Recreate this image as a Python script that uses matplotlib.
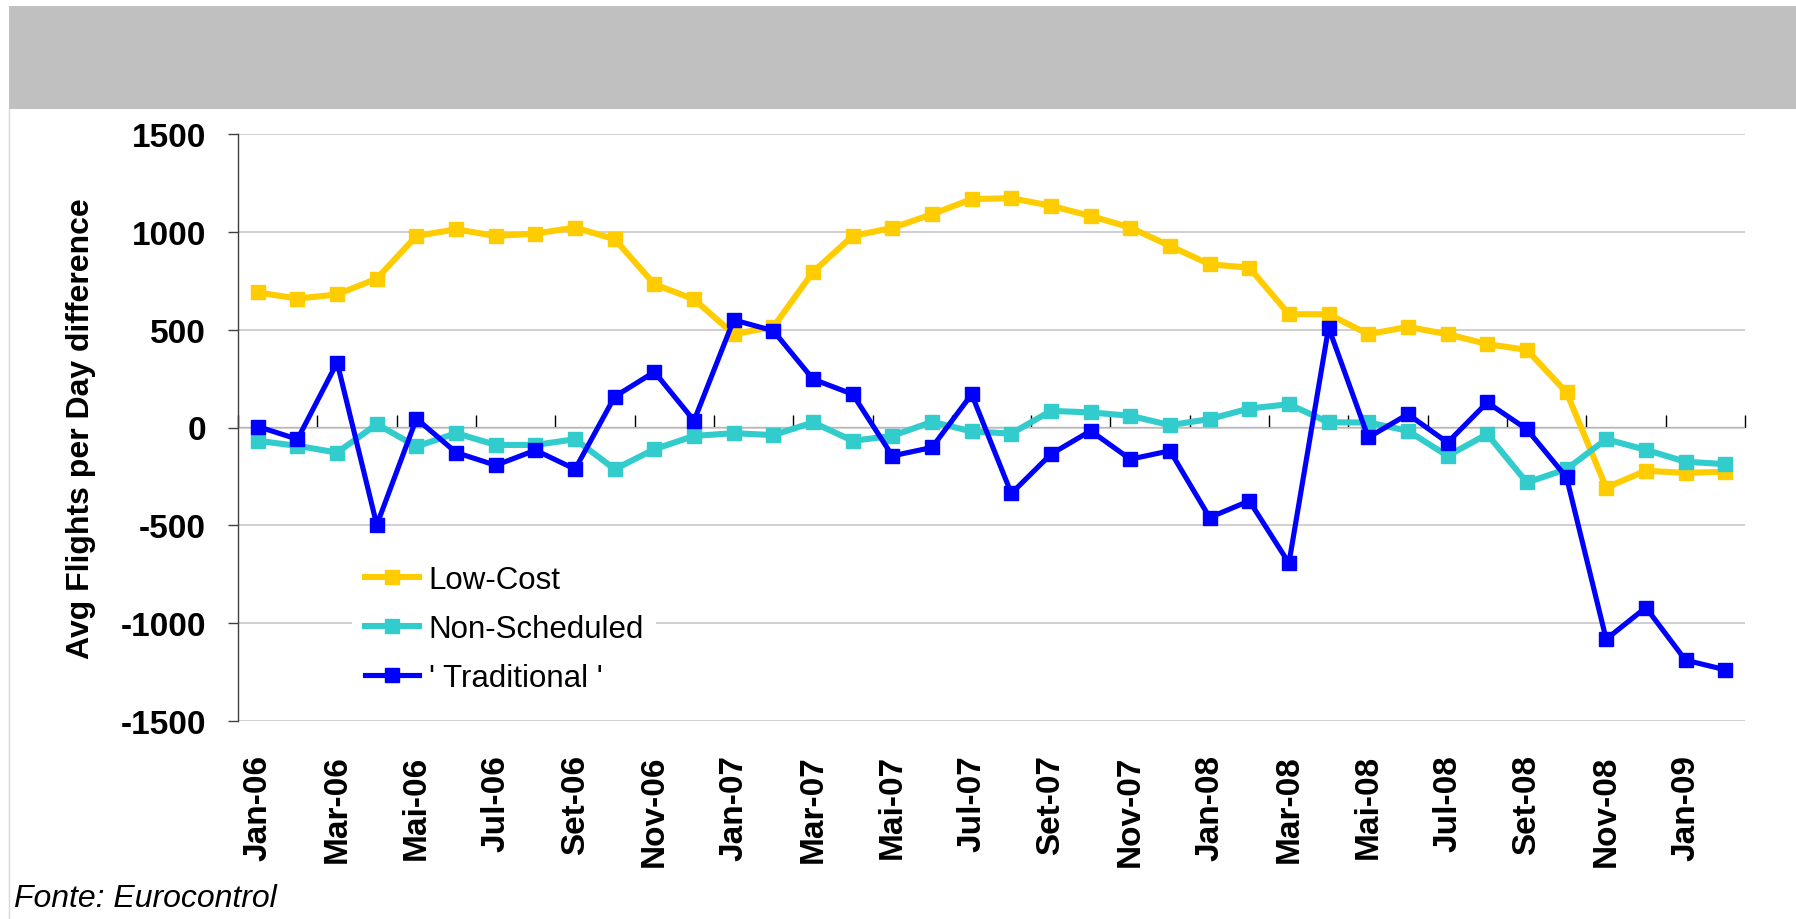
import numpy as np
import matplotlib
matplotlib.use("Agg")
import matplotlib.pyplot as plt
from matplotlib.patches import Rectangle
from matplotlib.lines import Line2D

plt.rcParams['font.family'] = ['Liberation Sans', 'DejaVu Sans']
plt.rcParams['axes.unicode_minus'] = False

# meses (Jan-06 .. Fev-09)
months = ['Jan-06', 'Fev-06', 'Mar-06', 'Abr-06', 'Mai-06', 'Jun-06', 'Jul-06', 'Ago-06',
          'Set-06', 'Out-06', 'Nov-06', 'Dez-06',
          'Jan-07', 'Fev-07', 'Mar-07', 'Abr-07', 'Mai-07', 'Jun-07', 'Jul-07', 'Ago-07',
          'Set-07', 'Out-07', 'Nov-07', 'Dez-07',
          'Jan-08', 'Fev-08', 'Mar-08', 'Abr-08', 'Mai-08', 'Jun-08', 'Jul-08', 'Ago-08',
          'Set-08', 'Out-08', 'Nov-08', 'Dez-08',
          'Jan-09', 'Fev-09']

low_cost = [690, 659, 680, 761, 979, 1013, 979, 991, 1022, 962, 732, 655,
            477, 514, 795, 979, 1020, 1090, 1167, 1172, 1133, 1081, 1022, 928,
            834, 817, 579, 579, 477, 514, 477, 426, 397, 179, -307, -221, -232, -226]

non_scheduled = [-68, -94, -128, 17, -97, -29, -89, -89, -60, -213, -111, -43,
                 -29, -39, 26, -68, -43, 29, -20, -31, 85, 77, 60, 12,
                 43, 97, 119, 26, 26, -17, -145, -34, -281, -213, -60, -114, -175, -187]

traditional = [5, -60, 332, -498, 45, -128, -193, -116, -213, 158, 284, 35,
               550, 494, 247, 170, -145, -102, 170, -337, -136, -17, -162, -119,
               -460, -375, -693, 511, -51, 68, -77, 128, -9, -255, -1082, -920, -1189, -1238]

series = [
    ("Low-Cost", low_cost, "#FFCC00", 4.4),
    ("Non-Scheduled", non_scheduled, "#33CCCC", 4.4),
    ("' Traditional '", traditional, "#0000FF", 3.7),
]

W, H = 1796, 920
fig = plt.figure(figsize=(W / 100, H / 100), dpi=100)
fig.patch.set_facecolor("white")

# faixa cinzenta do topo
fig.patches.append(Rectangle((9 / W, 1 - 110 / H), 1 - 9 / W, 103 / H,
                             transform=fig.transFigure, facecolor="#C0C0C0",
                             edgecolor="none", zorder=0))
fig.lines.append(Line2D([9 / W, 9 / W], [0, 1 - 110 / H], transform=fig.transFigure,
                        color="#D9D9D9", lw=1))

ax = fig.add_axes([238 / W, 1 - 722 / H, (1745 - 238) / W, (722 - 135) / H])
x = np.arange(len(months))

for name, vals, col, lw in series:
    ax.plot(x, vals, color=col, lw=lw, marker="s", markersize=9.5,
            markeredgecolor=col, label=name, clip_on=False)

ax.set_xlim(-0.5, len(months) - 0.5)
ax.set_ylim(-1500, 1500)
ax.set_yticks(np.arange(-1500, 1501, 500))
ax.yaxis.grid(True, color="#CCCCCC", lw=1.3)
ax.set_axisbelow(True)

for s in ["top", "right", "bottom"]:
    ax.spines[s].set_visible(False)
ax.spines["left"].set_color("#404040")
ax.spines["left"].set_linewidth(1.0)
ax.tick_params(axis="y", direction="out", length=7, width=1, color="#404040",
               pad=16, labelsize=24)
for lbl in ax.get_yticklabels():
    lbl.set_fontweight("bold")

# rótulos do eixo x (a cada 2 meses)
ax.set_xticks(x[::2])
ax.set_xticklabels(months[::2], rotation=90, fontsize=24, fontweight="bold", va="top")
ax.tick_params(axis="x", length=0, pad=24)

# linha do zero com marcas entre categorias (para cima)
zero_ax = ax.secondary_xaxis(0.5)
zero_ax.set_xticks(np.arange(-0.5, len(months), 2))
zero_ax.set_xticklabels([])
zero_ax.tick_params(axis="x", direction="out", length=9, width=1, color="black",
                    labelbottom=False, labeltop=False)
zero_ax.spines["bottom"].set_color("black")
zero_ax.spines["bottom"].set_linewidth(1.3)

ax.set_ylabel("Avg Flights per Day difference", fontsize=23, fontweight="bold")
ax.yaxis.set_label_coords(-0.094, 0.5)

leg = ax.legend(loc="center left", bbox_to_anchor=(352 / W, 1 - 630 / H),
                bbox_transform=fig.transFigure, borderaxespad=0, fontsize=22.5,
                frameon=True, facecolor="white", edgecolor="none", framealpha=1,
                numpoints=1, handlelength=1.75, handletextpad=0.3, labelspacing=0.6,
                borderpad=0.4, fancybox=False)

fig.text(14 / W, 1 - 899 / H, "Fonte: Eurocontrol", fontsize=23, fontstyle="italic",
         ha="left", va="center")

fig.savefig("out.png", dpi=100, facecolor="white")
